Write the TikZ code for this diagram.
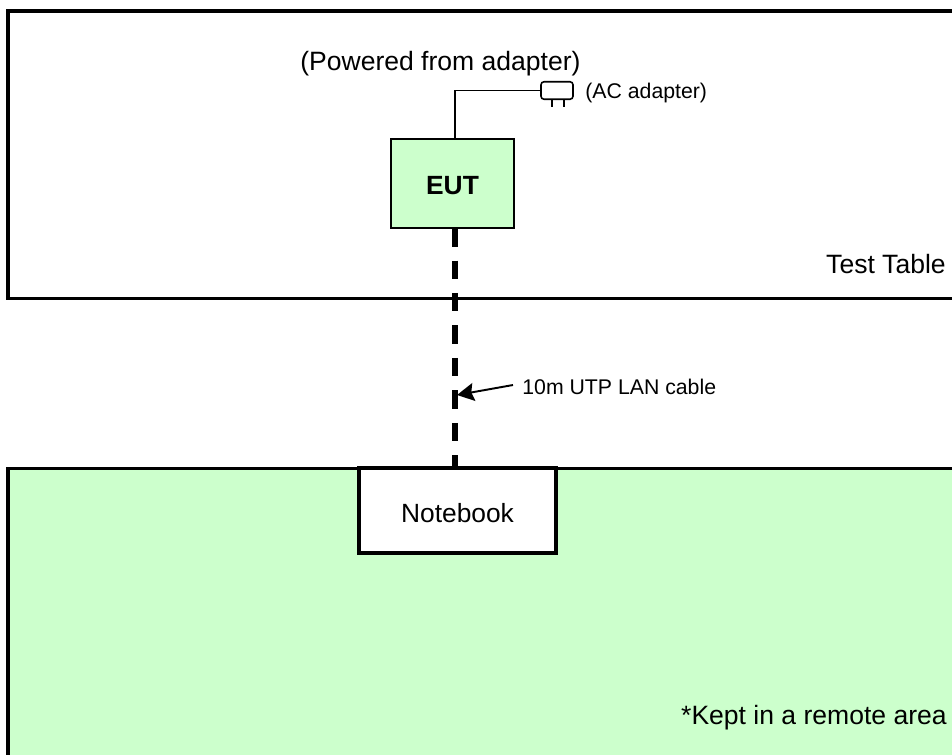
\documentclass[tikz,border=0pt]{standalone}
\usepackage{fontspec}
\setmainfont{Liberation Sans}
\usepackage{tikz}
\usetikzlibrary{arrows.meta}

\definecolor{palegreen}{HTML}{CCFFCC}

\tikzset{
  panel/.style={draw=black, line width=1.9pt},
  unit/.style={draw=black, line width=1.9pt, fill=white, minimum width=3.94cm, minimum height=1.7cm, text height=0.48cm, font=\fontsize{15}{17}\selectfont},
  eutbox/.style={draw=black, line width=1.1pt, fill=palegreen, minimum width=2.46cm, minimum height=1.78cm, text height=0.46cm, font=\fontsize{15}{17}\selectfont\bfseries},
  plugbox/.style={draw=black, line width=0.9pt, rounded corners=0.06cm, minimum width=0.64cm, minimum height=0.35cm, inner sep=0pt},
  wire/.style={draw=black, line width=0.9pt},
  lancable/.style={draw=black, line width=3pt, dash pattern=on 0.37cm off 0.28cm},
  biglabel/.style={font=\fontsize{15.1}{17}\selectfont, inner sep=0pt},
  smalllabel/.style={font=\fontsize{12.1}{14}\selectfont, inner sep=0pt}
}

\begin{document}
\begin{tikzpicture}[x=0.02cm, y=-0.02cm]

% --- page size, in pixels of the sheet ---
\useasboundingbox (0,0) rectangle (952,754);
\clip (0,0) rectangle (952,754);

% Panels (both run off the sheet on the right)
\draw[panel] (8,11) rectangle (980,298.5);
\draw[panel, fill=palegreen] (8,468.5) rectangle (980,790);

% Units
\node[eutbox] (eut) at (452.5,183.5) {EUT};
\node[unit] (notebook) at (457.5,510.5) {Notebook};
\node[plugbox] (plug) at (557,90.5) {};

% Free ends of the connectors
\coordinate (powerout) at (455,139);
\coordinate (lanout) at (455,228);
\coordinate (lanin) at (455,468);
\coordinate (prongA) at (552,99);
\coordinate (prongB) at (564,99);
\coordinate (prongAend) at (552,107);
\coordinate (prongBend) at (564,107);
\coordinate (cablepoint) at (457,395);
\coordinate (arrowstart) at (513,385);

% Power lead and LAN cable
\draw[wire] (powerout) |- (plug.west);
\draw[wire] (prongA) -- (prongAend);
\draw[wire] (prongB) -- (prongBend);
\draw[lancable] (lanout) -- (lanin);

% Labels
\node[biglabel, anchor=west] (powered) at (300,64) {(Powered from adapter)};
\node[smalllabel, anchor=west] (aclabel) at (585,92.5) {(AC adapter)};
\node[biglabel, anchor=east] (tablelabel) at (946,264) {Test Table};
\node[smalllabel, anchor=west] (cablelabel) at (522,387) {10m UTP LAN cable};
\node[biglabel, anchor=east] (remotelabel) at (947,717.5) {*Kept in a remote area};

\draw[line width=1.1pt, -{Stealth[length=0.34cm, width=0.36cm, inset=0.05cm]}] (arrowstart) -- (cablepoint);

\end{tikzpicture}
\end{document}
